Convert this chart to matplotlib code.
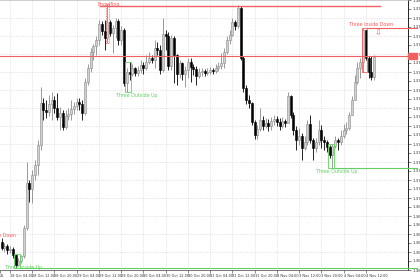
import numpy as np
import matplotlib.pyplot as plt
from matplotlib.patches import Rectangle

# --- H1 candles, prices stored as pips above 1.3650 ---
base = 1.3650
first_open = 29
close_pips = [26, 27, 25, 25.5, 22.5, 17.5, 19.5, 22, 36, 58.5,
              55.5, 62.5, 67.5, 77.5, 98.5, 95, 94, 98, 100, 96,
              91.5, 93.5, 86.5, 92, 93, 95.5, 97, 99, 98, 93.5,
              109, 116, 124, 127, 130, 138, 134.5, 131, 139, 133.5,
              136, 139.5, 130, 135, 108.5, 114, 113, 116, 113.5, 115,
              117.5, 116, 119, 121, 120, 126, 125, 115, 133, 132,
              117, 131, 122.5, 113, 118.5, 113, 115, 119, 116.5, 115.5,
              112, 114, 114.5, 113.5, 114, 115, 114.5, 116, 117, 118.5,
              124, 130, 132.5, 139, 137, 146, 121, 106, 100, 98.5,
              89, 82.5, 85.5, 90, 87, 88.5, 87, 89.5, 90.5, 89,
              87, 89.5, 88.5, 102, 92.5, 85, 80, 82, 76, 79,
              88, 80, 76, 79, 85, 80, 79, 76.5, 72.5, 77,
              80, 79, 82, 85, 86, 92.5, 100, 109, 116, 119,
              135, 121, 114, 111.5, 121.5]
high_pips = [31, 28.5, 28, 27, 26.5, 23, 21, 22.5, 37.5, 69,
             60, 65, 70, 80, 106.5, 101, 100, 102.5, 104, 102,
             103.5, 96.5, 95, 95, 96, 100, 99, 101, 101, 100,
             111, 118, 126, 128, 132, 140, 139.5, 140, 148, 140,
             137.5, 141, 140.5, 137, 136, 116, 119, 118, 116.5, 117,
             120, 119, 122.5, 124, 122.5, 130, 129, 127.5, 141, 135,
             134, 132.5, 132, 123, 120, 119, 117, 121, 121, 118,
             117, 116, 116, 115.5, 116, 116.5, 116, 118, 119, 123.5,
             126, 132, 135, 141, 140, 147.5, 147, 122, 107.5, 102.5,
             99, 90, 87.5, 96, 92, 91, 90.5, 91.5, 92.5, 92,
             91, 91.5, 90.5, 104, 102.5, 94, 87, 86, 83.5, 82,
             90, 92.5, 81, 81, 90, 87.5, 82, 80, 77.5, 78,
             82, 81, 85, 88, 89, 94, 102, 112.5, 119, 121,
             136, 130, 122, 122, 122.5]
low_pips = [25, 24, 23, 23.5, 21, 16, 17, 18.5, 21, 35,
            49, 48.5, 60, 62.5, 75, 90, 91, 92, 90, 93.5,
            90, 85, 85, 85.5, 90, 90, 93, 95, 95, 90,
            92.5, 107.5, 114, 120, 122.5, 127.5, 132.5, 125, 128.5, 132,
            123.5, 131, 127.5, 127.5, 107, 104, 110, 112, 112, 112,
            113.5, 113, 115, 118, 118.5, 116, 122.5, 113, 114, 125,
            115, 115, 108.5, 107.5, 111, 110, 106.5, 111, 109, 112.5,
            107.5, 111, 112, 112, 112.5, 113, 113, 113.5, 114.5, 115.5,
            116, 123, 128, 132, 135, 136, 120, 104, 98, 96,
            87.5, 80.5, 80.5, 84.5, 85, 86, 84.5, 85, 87.5, 87,
            85, 86, 86.5, 90, 91, 82.5, 75, 77.5, 70, 75,
            77.5, 78.5, 70, 74, 77.5, 76, 75, 74, 71, 66,
            76, 75, 77.5, 81, 83, 85, 92.5, 100, 108, 111,
            114, 120, 111, 110, 110]

tick_labels = ["28 Oct 04:00", "28 Oct 12:00", "28 Oct 20:00", "29 Oct 04:00",
               "29 Oct 12:00", "29 Oct 20:00", "30 Oct 04:00", "30 Oct 12:00",
               "30 Oct 20:00", "31 Oct 04:00", "31 Oct 12:00", "31 Oct 20:00",
               "3 Nov 04:00", "3 Nov 12:00", "3 Nov 20:00", "4 Nov 04:00",
               "4 Nov 12:00"]
first_tick = 3
hours_per_label = 8

bid_pips = 122
red = "#f06060"
green = "#60d060"

c = base + np.array(close_pips) / 1e4
o = np.concatenate([[base + first_open / 1e4], c[:-1]])
h = np.maximum(base + np.array(high_pips) / 1e4, np.maximum(o, c))
l = np.minimum(base + np.array(low_pips) / 1e4, np.minimum(o, c))
n = len(c)
idx = np.arange(n)

fig = plt.figure(figsize=(4.2, 2.8), dpi=100)
ax = fig.add_axes([0, 10 / 280, 408 / 420, 270 / 280])
ax.set_xlim(-0.6, 146.2)
ax.set_ylim(base + 15 / 1e4, base + 150 / 1e4)

# grid
xt = first_tick + hours_per_label * np.arange(len(tick_labels))
for x in xt:
    ax.axvline(x, color="#d0d0d0", lw=0.5, ls=(0, (1, 1.5)), zorder=0)
yt = np.arange(base + 15 / 1e4, base + 151 / 1e4, 0.00045)
for y in yt[::2]:
    ax.axhline(y, color="#d0d0d0", lw=0.5, ls=(0, (1, 1.5)), zorder=0)

# candles
up = c >= o
ax.vlines(idx[up], l[up], h[up], color="#8a8a8a", lw=0.6, zorder=2)
ax.vlines(idx[~up], l[~up], h[~up], color="black", lw=0.6, zorder=2)
body_h = np.maximum(np.abs(c - o), 0.00003)
ax.bar(idx[up], body_h[up], bottom=np.minimum(o, c)[up], width=0.72,
       color="#d0d0d0", edgecolor="#8a8a8a", lw=0.4, zorder=3)
ax.bar(idx[~up], body_h[~up], bottom=np.minimum(o, c)[~up], width=0.72,
       color="black", edgecolor="black", lw=0.4, zorder=3)

fs = 3.4
xr = 149.4  # just past the right axis, where MT4 draws the price tag


def box(a, b, col, ls="-"):
    top, bot = h[a:b + 1].max(), l[a:b + 1].min()
    ax.add_patch(Rectangle((a - 0.5, bot), b - a + 1, top - bot, fill=False,
                           ec=col, lw=0.6, ls=ls, zorder=4))
    return top, bot


# Three Inside Up (bottom left)
top, bot = box(5, 6, green)
ax.plot([6.5, xr], [bot, bot], color=green, lw=0.8, clip_on=False, zorder=4)
ax.text(8, bot + 0.00003, "Three Inside Up", color=green, fontsize=fs,
        ha="center", va="center", zorder=5)

# Three Inside Down, cut off at the left
ax.text(-2.9, base + 32.5 / 1e4, "Three Inside Down", color=red, fontsize=fs,
        ha="center", va="center", zorder=5)

# Engulfing
top, bot = box(38, 38, red, ls=(0, (1, 1)))
ax.plot([35.5, 136], [top - 0.00008, top - 0.00008], color=red, lw=1.0,
        zorder=6)
ax.text(38.5, top - 0.00003, "Engulfing", color=red, fontsize=fs,
        ha="center", va="center", zorder=5)

# Three Outside Up (middle)
top, bot = box(45, 46, green)
ax.text(48.6, bot - 0.00005, "Three Outside Up", color=green, fontsize=fs,
        ha="center", va="top", zorder=5)

# Three Outside Up (right)
top, bot = box(118, 119, green)
ax.plot([119.5, xr], [bot, bot], color=green, lw=0.8, clip_on=False, zorder=4)
ax.text(120.6, bot - 0.00004, "Three Outside Up", color=green, fontsize=fs,
        ha="center", va="top", zorder=5)

# Three Inside Down (right)
top, bot = box(130, 131, red)
ax.plot([131.5, xr], [top, top], color=red, lw=0.8, clip_on=False, zorder=4)
ax.text(133, top + 0.00003, "Three Inside Down", color=red, fontsize=fs,
        ha="center", va="bottom", zorder=5)
ax.text(135.4, top - 0.00003, "\u21e9", color=red, fontsize=6,
        ha="center", va="top", zorder=5)

# bid line and its price tag
bid = base + bid_pips / 1e4
ax.axhline(bid, color=red, lw=0.8, zorder=4)
ax.add_patch(Rectangle((146.3, bid - 0.00016), 3.2, 0.00032, color=red,
                       clip_on=False, zorder=6))

# axes look
ax.spines["left"].set_visible(False)
ax.spines["top"].set_color("#c0c0c0")
ax.spines["top"].set_linewidth(0.5)
ax.spines["bottom"].set_color("#606060")
ax.spines["right"].set_color("black")
ax.spines["bottom"].set_linewidth(0.6)
ax.spines["right"].set_linewidth(0.6)

ax.set_xticks(np.concatenate([[-0.6], xt]))
ax.set_xticklabels(["25"] + tick_labels)
for lbl in ax.get_xticklabels():
    lbl.set_ha("left")
ax.tick_params(axis="x", labelsize=2.5, length=2, width=0.4, pad=1,
               colors="#303030")
ax.yaxis.tick_right()
ax.set_yticks(yt)
ax.set_yticklabels([f"{v:.5f}" for v in yt])
ax.tick_params(axis="y", labelsize=2.8, length=2, width=0.4, pad=1,
               colors="#303030")

fig.savefig("out.png", dpi=100)
